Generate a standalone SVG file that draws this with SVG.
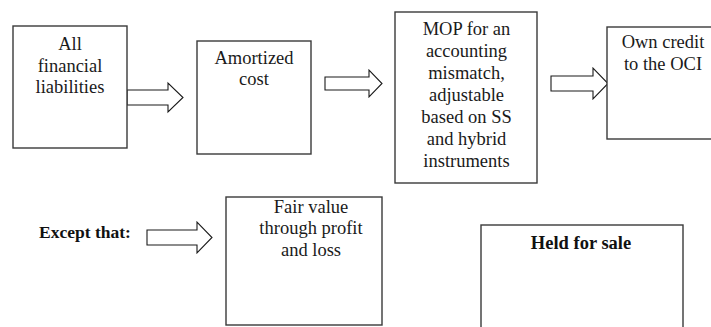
<svg xmlns="http://www.w3.org/2000/svg" width="711" height="327" viewBox="0 0 711 327">
  <style>
    .box { fill: #ffffff; stroke: #3a3a3a; stroke-width: 1.4; }
    .arrow { fill: #ffffff; stroke: #1a1a1a; stroke-width: 1.1; stroke-linejoin: miter; }
    .t { font-family: 'Liberation Serif', 'DejaVu Serif', serif; font-size: 18.5px; fill: #1a1a1a; text-anchor: middle; }
    .b { font-family: 'Liberation Serif', 'DejaVu Serif', serif; font-weight: bold; fill: #111111; }
  </style>
  <rect width="711" height="327" fill="#ffffff"/>

  <g id="connectors">
    <!-- block arrows: tail rectangle + triangular head -->
    <polygon class="arrow" points="127,90 168,90 168,83 183,97.5 168,112 168,105 127,105"/>
    <polygon class="arrow" points="325,77 369,77 369,70 382,83.5 369,97 369,90 325,90"/>
    <polygon class="arrow" points="551,76 593,76 593,68 608,83.5 593,99 593,91 551,91"/>
    <polygon class="arrow" points="147,230 197,230 197,222 212,237.5 197,253 197,245 147,245"/>
  </g>

  <g id="all-liabilities">
    <rect class="box" x="13" y="26" width="114" height="122"/>
    <text class="t" x="70" y="50">All</text>
    <text class="t" x="70" y="72">financial</text>
    <text class="t" x="70" y="93">liabilities</text>
  </g>

  <g id="amortized-cost">
    <rect class="box" x="197" y="41" width="114" height="113"/>
    <text class="t" x="254" y="64">Amortized</text>
    <text class="t" x="254" y="85">cost</text>
  </g>

  <g id="mop">
    <rect class="box" x="395" y="12" width="142" height="171"/>
    <text class="t" x="466.5" y="35">MOP for an</text>
    <text class="t" x="466.5" y="57">accounting</text>
    <text class="t" x="466.5" y="79">mismatch,</text>
    <text class="t" x="466.5" y="101">adjustable</text>
    <text class="t" x="466.5" y="123">based on SS</text>
    <text class="t" x="466.5" y="145">and hybrid</text>
    <text class="t" x="466.5" y="167">instruments</text>
  </g>

  <g id="own-credit">
    <rect class="box" x="607" y="27" width="113" height="112"/>
    <text class="t" x="663" y="48">Own credit</text>
    <text class="t" x="663" y="70">to the OCI</text>
  </g>

  <g id="except-that">
    <text class="b" x="39" y="238" font-size="17.5">Except that:</text>
  </g>

  <g id="fair-value">
    <rect class="box" x="226" y="197" width="156" height="128"/>
    <text class="t" x="311" y="213">Fair value</text>
    <text class="t" x="311" y="234">through profit</text>
    <text class="t" x="311" y="256">and loss</text>
  </g>

  <g id="held-for-sale">
    <rect class="box" x="481" y="225" width="202" height="110"/>
    <text class="b" x="581" y="249" font-size="18.5" text-anchor="middle">Held for sale</text>
  </g>
</svg>
